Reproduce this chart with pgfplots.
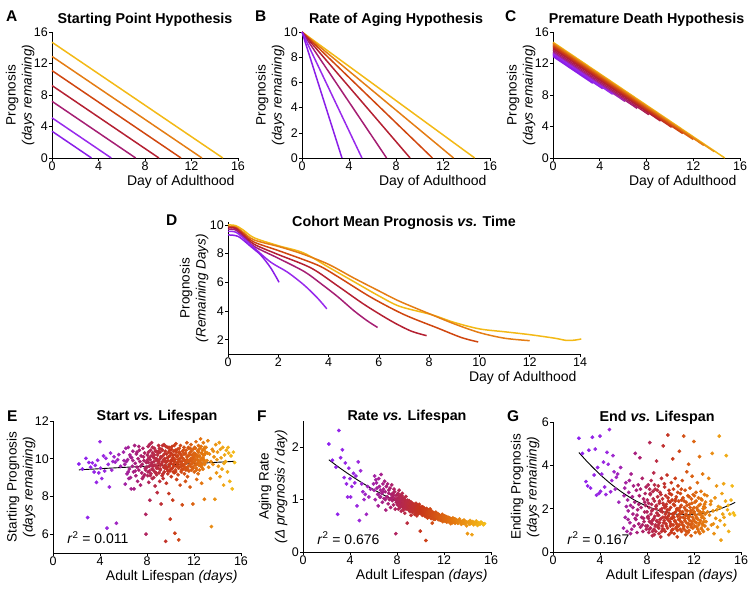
\documentclass[border=0pt]{standalone}
\usepackage{fontspec}
\setmainfont{Liberation Sans}
\usepackage{pgfplots}
\usepackage{pgfplotstable}
\pgfplotsset{compat=1.18}

\definecolor{c1}{RGB}{138,30,232}
\definecolor{c2}{RGB}{152,42,236}
\definecolor{c3}{RGB}{165,30,115}
\definecolor{c4}{RGB}{180,32,50}
\definecolor{c5}{RGB}{208,70,15}
\definecolor{c6}{RGB}{228,125,20}
\definecolor{c7}{RGB}{243,185,22}

\newcommand{\yl}[2]{#1\\[1pt]{\fontsize{13.5}{14}\selectfont\textit{#2}}}

\tikzset{
  ttl/.style={font=\bfseries\fontsize{14.3}{16}\selectfont, anchor=base},
  rsq/.style={font=\fontsize{14}{16}\selectfont, anchor=base west},
}
\pgfplotsset{
  panel/.style={
    scale only axis, axis lines=left,
    axis line style={-, line width=0.6pt},
    x axis line style={-}, y axis line style={-},
    tick align=outside, major tick length=3pt,
    tick style={black, line width=0.6pt},
    ticklabel style={font=\fontsize{12.5}{14}\selectfont, inner sep=1pt},
    /pgf/number format/assume math mode=true,
    label style={font=\fontsize{13.5}{15}\selectfont},
    ylabel style={align=center}, ylabel shift=-5pt,
    xlabel style={at={(ticklabel cs:1)}, anchor=north east, font=\fontsize{14}{15}\selectfont},
    anchor=south west, clip=false, enlargelimits=false,
  },
  hline/.style={no marks, line width=1.5pt},
  colormap={life}{rgb255=(140,30,240) rgb255=(155,40,222) rgb255=(170,30,112) rgb255=(200,55,25) rgb255=(228,120,15) rgb255=(245,190,25)},
  dots/.style={scatter, only marks, mark=*, mark size=1.7pt,
    scatter/use mapped color={draw=mapped color, fill=mapped color},
    point meta=x, point meta min=2, point meta max=15.5},
}

\pgfplotstableread{
x s r e
2.2 9.72 2.06 5.25
2.5 9.45 1.75 4.55
2.8 10.02 1.62 3.25
2.95 6.88 0.72 3.05
3.05 9.80 2.32 4.70
3.2 9.55 1.80 2.95
3.35 9.78 1.95 5.30
3.5 9.30 1.42 3.55
3.6 9.65 1.70 4.75
3.7 8.75 1.30 2.62
3.8 9.92 1.05 3.90
3.9 9.25 1.60 2.70
4.0 10.90 1.40 5.35
4.05 9.50 1.05 2.80
4.15 8.95 1.25 3.60
4.3 10.15 1.50 4.15
4.4 9.35 1.32 3.00
4.5 10.02 1.45 2.65
4.6 6.32 0.88 4.60
4.7 9.70 1.72 4.05
4.8 8.50 0.60 5.65
4.9 10.30 1.55 2.78
5.0 9.40 1.30 3.30
5.1 9.85 1.15 4.45
5.2 10.10 1.00 3.70
5.3 9.82 1.10 2.90
5.4 6.58 0.72 3.45
5.5 9.95 1.25 3.60
5.6 10.22 1.05 2.30
5.75 9.60 1.20 3.90
6.0 10.35 1.30 1.10
6.1 9.70 1.45 2.95
6.15 8.65 1.00 1.60
6.2 10.55 1.38 3.20
6.3 9.20 1.22 0.95
6.35 9.95 1.10 2.40
6.4 10.60 0.88 1.90
6.45 8.95 1.40 2.75
6.5 9.45 1.25 3.30
6.55 10.20 1.05 1.35
6.6 9.00 1.18 2.15
6.65 8.40 1.48 3.60
6.7 10.05 1.12 1.05
6.75 9.60 0.95 2.55
6.8 10.40 1.30 1.75
6.85 9.30 1.20 3.05
6.9 8.40 1.02 1.20
6.95 10.70 1.35 2.30
7.0 9.75 1.15 4.55
7.05 9.10 0.80 1.50
7.1 10.25 1.25 2.85
7.15 9.55 1.05 0.90
7.2 8.80 1.30 1.95
7.25 10.00 0.92 3.10
7.3 9.40 1.18 1.30
7.35 10.45 1.00 2.60
7.4 9.85 1.22 4.35
7.45 8.60 0.85 1.15
7.5 10.15 1.10 2.05
7.55 9.25 1.28 1.60
7.6 9.70 0.98 3.40
7.65 10.55 1.12 0.95
7.7 9.05 0.90 2.45
7.75 9.90 1.20 1.40
7.8 10.30 1.02 1.85
7.85 9.50 0.82 2.70
7.9 7.05 0.35 1.20
7.92 6.00 1.08 3.00
7.95 9.80 0.95 1.05
6.25 9.85 1.32 2.10
6.6 10.10 1.05 0.85
7.0 9.35 1.00 1.55
7.3 10.65 1.12 2.20
7.6 8.95 1.05 1.25
7.8 9.15 1.15 2.30
6.05 9.90 1.18 2.60
6.40 9.30 1.10 1.50
6.80 9.90 1.15 2.05
7.15 10.35 1.05 1.70
7.45 9.60 1.02 2.90
7.70 10.10 1.08 1.55
7.88 9.40 1.00 2.15
8.00 9.55 1.02 1.85
8.03 10.20 0.90 2.40
8.06 9.10 1.10 1.20
8.10 10.65 0.95 3.10
8.12 9.80 0.82 1.55
8.15 8.75 1.05 0.90
8.18 10.05 1.18 2.05
8.21 9.35 0.88 1.40
8.24 7.80 0.98 5.05
8.27 9.95 0.85 2.65
8.30 10.45 1.08 1.10
8.33 9.20 0.94 1.75
8.36 9.70 0.78 3.30
8.39 10.85 1.00 2.20
8.42 9.45 0.92 1.30
8.45 8.95 1.12 0.75
8.48 10.30 0.86 1.95
8.51 9.60 0.97 2.80
8.54 10.10 0.80 1.50
8.57 9.00 1.02 3.65
8.60 9.85 0.90 1.05
8.63 10.55 0.95 2.35
8.66 9.30 0.74 1.65
8.69 8.55 0.99 2.90
8.72 10.00 0.88 1.25
8.75 9.65 1.06 0.95
8.78 10.40 0.82 2.10
8.81 9.15 0.93 4.20
8.84 9.90 0.87 1.80
8.87 8.20 0.55 1.40
8.90 10.20 0.96 2.55
8.93 9.50 0.84 1.15
8.96 9.75 0.90 3.05
8.99 10.70 0.80 1.70
9.02 9.25 0.98 0.85
9.05 9.95 0.86 2.25
9.08 8.80 0.91 1.35
9.11 10.35 0.77 2.75
9.14 9.40 0.89 1.90
9.17 10.05 0.83 0.70
9.20 7.60 0.70 1.55
9.23 9.70 0.95 3.40
9.26 10.50 0.81 2.00
9.29 9.10 0.88 1.20
9.32 9.85 0.76 2.45
9.35 10.15 0.92 1.60
9.38 8.95 0.84 4.90
9.41 9.55 0.79 1.05
9.44 10.75 0.90 2.15
9.47 9.30 0.85 1.45
9.50 10.00 0.72 3.00
9.53 9.65 0.88 0.95
9.56 10.40 0.80 1.75
9.59 5.62 0.82 2.60
9.62 9.80 0.93 1.30
9.65 8.70 0.75 2.20
9.68 10.25 0.86 1.85
9.71 9.45 0.81 3.55
9.74 10.60 0.78 1.10
9.77 9.20 0.89 5.40
9.80 9.90 0.73 1.65
9.83 10.10 0.84 2.35
9.86 8.15 0.79 0.80
9.89 9.60 0.91 1.95
9.92 10.45 0.76 2.70
9.95 9.35 0.83 1.40
9.98 6.80 0.40 1.20
10.01 9.75 0.80 2.05
10.04 10.30 0.74 1.55
10.07 9.05 0.85 3.20
10.10 9.95 0.78 1.00
10.13 10.65 0.82 2.40
10.16 9.50 0.70 1.75
10.19 7.80 0.86 4.30
10.22 10.05 0.77 1.25
10.25 9.70 0.81 2.90
10.28 10.40 0.72 1.60
10.31 9.25 0.84 0.85
10.34 9.85 0.79 2.15
10.37 6.05 0.75 1.45
10.40 10.20 0.68 3.40
10.43 9.40 0.80 1.85
10.46 10.80 0.22 1.10
10.49 9.60 0.76 2.55
10.52 8.90 0.83 1.30
10.55 10.10 0.71 2.00
10.58 9.80 0.78 0.70
10.61 10.50 0.74 1.65
10.64 9.15 0.66 3.05
10.67 9.95 0.80 1.20
10.70 5.70 0.73 2.35
10.73 10.30 0.77 1.50
10.76 9.55 0.69 4.65
10.79 10.00 0.75 1.90
10.82 8.60 0.82 1.05
10.85 10.70 0.70 2.70
10.88 9.70 0.72 1.40
10.91 9.30 0.64 2.15
10.94 10.15 0.76 0.95
10.97 9.85 0.71 1.80
11.00 7.55 0.55 3.30
11.03 10.40 0.73 1.25
11.06 9.45 0.68 2.50
11.09 10.00 0.75 1.60
11.12 9.65 0.70 5.35
11.15 10.60 0.66 1.05
11.18 9.20 0.74 2.05
11.21 9.90 0.69 1.45
11.24 10.25 0.72 2.85
11.27 8.80 0.63 1.70
11.30 9.75 0.71 0.80
11.33 10.45 0.67 2.30
11.36 9.50 0.74 1.35
11.39 10.85 0.69 3.70
11.42 9.95 0.65 1.90
11.45 9.05 0.72 1.15
11.48 10.15 0.68 2.60
11.51 9.60 0.62 1.55
11.54 10.55 0.70 4.05
11.57 9.35 0.66 1.00
11.60 9.85 0.71 2.20
11.63 10.30 0.64 1.65
11.66 8.50 0.69 2.95
11.69 9.70 0.67 1.25
11.72 10.00 0.61 1.80
11.75 10.75 0.68 0.75
11.78 9.40 0.65 2.45
11.81 9.90 0.70 1.40
11.84 10.20 0.60 3.50
11.87 9.55 0.66 1.95
11.90 7.60 0.58 1.10
11.93 10.50 0.67 2.65
11.96 9.80 0.63 1.50
11.99 10.05 0.69 5.10
12.02 9.30 0.62 1.85
12.05 10.60 0.66 1.20
12.08 9.65 0.59 2.30
12.11 10.25 0.64 0.90
12.14 9.95 0.68 1.70
12.17 10.90 0.61 2.75
12.20 9.50 0.65 1.35
12.23 8.90 0.57 2.05
12.26 10.10 0.63 1.55
12.29 9.75 0.66 3.20
12.32 10.40 0.60 1.05
12.35 9.20 0.64 1.90
12.38 10.70 0.58 2.50
12.41 9.85 0.62 1.25
12.44 10.15 0.65 1.75
12.47 9.40 0.59 4.40
12.50 10.55 0.63 0.85
12.53 9.90 0.60 2.20
12.56 11.05 0.64 1.45
12.59 9.60 0.57 2.80
12.62 10.30 0.61 1.10
12.65 8.70 0.63 1.60
12.68 10.00 0.59 2.40
12.71 9.70 0.56 1.30
12.74 10.45 0.62 3.60
12.77 9.45 0.60 1.85
12.80 10.85 0.58 0.95
12.83 9.95 0.61 2.10
12.86 10.20 0.57 1.55
12.89 7.85 0.63 2.65
12.92 10.60 0.59 1.20
12.95 9.80 0.55 1.75
12.98 10.35 0.60 2.30
8.05 9.95 0.97 1.60
8.13 10.35 1.03 2.25
8.20 9.60 0.93 1.05
8.28 9.10 1.00 2.70
8.35 10.15 0.89 1.35
8.41 9.80 1.04 1.90
8.47 10.60 0.91 0.95
8.53 9.40 0.96 2.45
8.58 10.05 0.84 1.55
8.64 9.65 1.01 3.10
8.70 10.40 0.89 1.20
8.76 9.25 0.94 2.00
8.82 10.00 0.86 1.45
8.88 9.55 0.99 2.85
8.94 10.30 0.88 1.70
9.00 9.85 0.92 1.10
9.06 10.55 0.85 2.35
9.12 9.45 0.90 1.50
9.18 10.10 0.80 2.65
9.24 9.75 0.87 0.95
9.30 10.45 0.83 1.85
9.36 9.20 0.89 2.25
9.42 9.95 0.81 1.35
9.48 10.25 0.86 3.15
9.54 9.50 0.78 1.60
9.60 10.65 0.84 2.10
9.66 9.85 0.80 1.20
9.72 10.05 0.85 1.95
9.78 9.35 0.77 2.50
9.84 10.35 0.82 1.45
9.90 9.70 0.79 1.75
9.96 10.15 0.74 2.30
10.02 9.45 0.83 1.30
10.08 10.50 0.77 2.65
10.14 9.90 0.80 1.55
10.20 10.20 0.75 1.05
10.26 9.60 0.78 2.20
10.32 10.70 0.73 1.80
10.38 9.95 0.79 1.40
10.44 9.30 0.76 2.45
10.50 10.35 0.72 1.15
10.56 9.75 0.77 1.95
10.62 10.15 0.73 2.75
10.68 9.50 0.75 1.50
10.74 10.55 0.70 1.25
10.80 9.85 0.74 2.05
10.86 10.25 0.71 1.60
10.92 9.40 0.75 2.90
10.98 10.05 0.69 1.35
11.04 9.70 0.72 1.85
11.10 10.45 0.70 1.10
11.16 9.95 0.68 2.35
11.22 9.55 0.71 1.55
11.28 10.30 0.67 1.95
11.34 9.80 0.70 0.95
11.40 10.10 0.66 2.15
11.46 9.45 0.69 1.65
11.52 10.60 0.65 1.30
11.58 9.90 0.68 2.55
11.64 10.20 0.64 1.45
11.70 9.60 0.67 1.90
11.76 10.40 0.63 1.15
11.82 9.75 0.66 2.25
11.88 10.05 0.64 1.60
11.94 9.50 0.62 1.80
12.00 10.30 0.65 2.05
12.06 9.85 0.61 1.40
12.12 10.55 0.63 1.70
12.18 9.70 0.60 2.35
12.24 10.20 0.62 1.15
12.30 9.95 0.64 1.95
12.36 10.45 0.59 1.50
12.42 9.65 0.61 2.15
12.48 10.10 0.60 1.35
12.54 9.80 0.58 1.85
12.60 10.65 0.62 2.45
12.66 9.55 0.60 1.05
12.72 10.25 0.58 1.65
12.78 9.90 0.61 2.00
12.84 10.50 0.57 1.40
12.90 9.70 0.59 2.20
8.09 9.30 1.12 1.65
8.22 10.75 0.87 2.90
8.44 9.70 1.07 1.45
8.62 10.20 0.85 0.80
8.80 9.50 0.97 2.15
8.97 10.40 0.93 1.25
9.13 9.65 0.94 1.95
9.33 10.70 0.87 1.05
9.51 9.90 0.91 2.05
9.69 9.55 0.69 1.55
9.87 10.60 0.87 2.85
10.05 9.85 0.86 0.90
10.23 9.30 0.83 1.65
10.41 10.45 0.81 2.35
10.59 9.65 0.65 1.00
10.77 10.35 0.79 1.75
10.95 9.60 0.78 2.40
11.13 10.25 0.62 1.20
11.31 9.40 0.76 1.75
11.49 9.85 0.73 0.90
11.67 10.55 0.61 2.05
11.85 9.95 0.72 1.30
12.03 10.15 0.69 2.60
12.21 9.40 0.67 1.60
12.39 10.35 0.66 0.95
12.57 9.75 0.54 1.75
12.75 10.05 0.65 1.25
12.93 10.25 0.63 2.05
13.02 10.60 0.62 1.40
13.10 9.90 0.58 2.60
13.15 10.30 0.60 1.85
13.18 10.95 0.55 1.05
13.25 9.55 0.60 3.40
13.32 10.25 0.63 1.70
13.40 8.95 0.57 2.20
13.45 9.85 0.58 2.35
13.48 6.40 0.53 1.25
13.55 10.50 0.59 4.55
13.62 9.70 0.56 1.90
13.65 10.40 0.55 1.30
13.70 10.10 0.61 0.85
13.78 7.85 0.54 2.50
13.85 10.75 0.58 1.55
13.92 9.25 0.50 3.05
13.95 9.95 0.57 1.95
14.00 10.35 0.35 1.15
14.08 9.60 0.57 2.10
14.15 10.85 0.53 5.35
14.22 9.05 0.60 1.45
14.25 10.50 0.54 2.05
14.30 10.05 0.55 0.55
14.38 9.45 0.33 2.70
14.45 10.60 0.58 1.75
14.52 8.60 0.52 3.15
14.55 9.75 0.55 1.60
14.60 10.20 0.56 1.25
14.68 9.85 0.54 2.35
14.75 10.45 0.59 4.45
14.85 9.30 0.51 1.95
14.90 10.60 0.53 2.15
14.95 10.30 0.56 0.95
15.05 8.80 0.53 1.75
15.15 10.15 0.57 2.40
15.25 8.40 0.55 3.05
15.35 10.35 0.52 1.80
15.45 9.80 0.54 1.70
}\data

\begin{document}
\begin{tikzpicture}
\useasboundingbox (0,0) rectangle (754pt,-590pt);

% ---------------- A ----------------
\begin{axis}[panel, at={(52pt,-158pt)}, width=186pt, height=126pt,
  xmin=0, xmax=16, ymin=0, ymax=16, xtick={0,4,...,16}, ytick={0,4,...,16},
  xlabel={Day of Adulthood}, ylabel={\yl{Prognosis}{(days remaining)}}]
\addplot[hline, c7] coordinates {(0,14.7) (14.7,0)};
\addplot[hline, c6] coordinates {(0,12.9) (12.9,0)};
\addplot[hline, c5] coordinates {(0,11.1) (11.1,0)};
\addplot[hline, c4] coordinates {(0,9.2) (9.2,0)};
\addplot[hline, c3] coordinates {(0,7.2) (7.2,0)};
\addplot[hline, c2] coordinates {(0,5.1) (5.1,0)};
\addplot[hline, c1] coordinates {(0,3.4) (3.4,0)};
\node[ttl, yshift=9pt] at (rel axis cs:0.5,1) {Starting Point Hypothesis};
\end{axis}

% ---------------- B ----------------
\begin{axis}[panel, at={(302pt,-158pt)}, width=188pt, height=126pt,
  xmin=0, xmax=16, ymin=0, ymax=10, xtick={0,4,...,16}, ytick={0,2,...,10},
  xlabel={Day of Adulthood}, ylabel={\yl{Prognosis}{(days remaining)}}]
\addplot[hline, c7] coordinates {(0,10) (14.7,0)};
\addplot[hline, c6] coordinates {(0,10) (12.9,0)};
\addplot[hline, c5] coordinates {(0,10) (11.1,0)};
\addplot[hline, c4] coordinates {(0,10) (9.2,0)};
\addplot[hline, c3] coordinates {(0,10) (7.2,0)};
\addplot[hline, c2] coordinates {(0,10) (5.1,0)};
\addplot[hline, c1] coordinates {(0,10) (3.4,0)};
\node[ttl, yshift=9pt] at (rel axis cs:0.5,1) {Rate of Aging Hypothesis};
\end{axis}

% ---------------- C ----------------
\begin{axis}[panel, at={(553pt,-158pt)}, width=187pt, height=126pt,
  xmin=0, xmax=16, ymin=0, ymax=16, xtick={0,4,...,16}, ytick={0,4,...,16},
  xlabel={Day of Adulthood}, ylabel={\yl{Prognosis}{(days remaining)}}]
\addplot[hline, c7] coordinates {(0,14.7) (14.7,0)};
\addplot[hline, c6!50!c7] coordinates {(0,14.6) (13.8,0.8)};
\addplot[hline, c6] coordinates {(0,14.5) (12.9,1.6)};
\addplot[hline, c5!50!c6] coordinates {(0,14.35) (12.0,2.35)};
\addplot[hline, c5] coordinates {(0,14.2) (11.1,3.1)};
\addplot[hline, c4!50!c5] coordinates {(0,14.05) (10.15,3.9)};
\addplot[hline, c4] coordinates {(0,13.9) (9.2,4.7)};
\addplot[hline, c3!50!c4] coordinates {(0,13.7) (8.2,5.5)};
\addplot[hline, c3] coordinates {(0,13.5) (7.2,6.3)};
\addplot[hline, c2!50!c3] coordinates {(0,13.35) (6.15,7.2)};
\addplot[hline, c2] coordinates {(0,13.2) (5.1,8.1)};
\addplot[hline, c1!50!c2] coordinates {(0,13.05) (4.25,8.8)};
\addplot[hline, c1] coordinates {(0,12.9) (3.4,9.5)};
\node[ttl, yshift=9pt] at (rel axis cs:0.5,1) {Premature Death Hypothesis};
\end{axis}

% ---------------- D ----------------
\begin{axis}[panel, at={(228pt,-354pt)}, width=352pt, height=132pt,
  ylabel shift=-3pt,
  xmin=0, xmax=14, ymin=1, ymax=10.2, xtick={0,2,...,14}, ytick={2,4,...,10},
  xlabel={Day of Adulthood}, ylabel={\yl{Prognosis}{(Remaining Days)}}]
\addplot[hline, smooth, c7] coordinates {(0,10.0) (0.3,9.95) (0.6,9.65) (1.04,9.1) (2.0,8.55) (3.0,8.05) (4.0,7.05) (5.0,6.05) (6.0,5.05) (6.83,4.32) (8.1,3.74) (9.0,3.2) (10,2.75) (11,2.55) (12,2.35) (13,2.1) (13.45,1.95) (13.8,1.97) (14.05,2.05)};
\addplot[hline, smooth, c6] coordinates {(0,9.9) (0.3,9.85) (0.6,9.5) (1.04,8.95) (2.1,8.45) (3.0,7.95) (4.0,7.25) (5.0,6.3) (6.0,5.4) (6.83,4.67) (8.1,3.74) (9.0,3.1) (10,2.49) (11,2.1) (12,1.93)};
\addplot[hline, smooth, c5] coordinates {(0,9.85) (0.3,9.8) (0.6,9.4) (1.04,8.8) (2.1,8.15) (3.56,7.2) (4.36,6.4) (5.69,4.95) (7.0,3.75) (8.35,2.8) (9.28,2.15) (9.95,1.84)};
\addplot[hline, smooth, c4] coordinates {(0,9.8) (0.3,9.75) (0.6,9.3) (1.04,8.65) (1.97,7.95) (3.3,7.0) (4.36,5.75) (5.42,4.45) (6.49,3.3) (7.28,2.6) (7.9,2.28)};
\addplot[hline, smooth, c3] coordinates {(0,9.7) (0.3,9.65) (0.6,9.2) (1.04,8.5) (1.97,7.7) (3.03,6.75) (3.7,5.9) (4.36,5.0) (5.02,4.0) (5.55,3.3) (5.95,2.85)};
\addplot[hline, smooth, c2] coordinates {(0,9.55) (0.3,9.5) (0.6,9.1) (1.04,8.4) (1.7,7.4) (2.37,6.7) (3.03,5.8) (3.56,4.9) (3.93,4.15)};
\addplot[hline, smooth, c1] coordinates {(0,9.3) (0.2,9.28) (0.4,9.2) (0.6,8.95) (0.9,8.5) (1.3,7.9) (1.7,7.0) (2.03,6.0)};
\node[ttl, yshift=-4pt] at (rel axis cs:0.5,1) {Cohort Mean Prognosis \textit{vs.} Time};
\end{axis}

% ---------------- E ----------------
\begin{axis}[panel, at={(53pt,-553pt)}, width=188pt, height=132pt,
  xmin=0, xmax=16, ymin=5, ymax=12, xtick={0,4,...,16}, ytick={6,8,10,12},
  xlabel={Adult Lifespan \textit{(days)}}, ylabel={\yl{Starting Prognosis}{(days remaining)}}]
\addplot[dots] table[x=x, y=s] {\data};
\addplot[black, line width=0.9pt, no marks] coordinates {(2.2,9.41) (15.4,9.86)};
\node[ttl, xshift=10pt, yshift=1pt] at (rel axis cs:0.5,1) {Start \textit{vs.} Lifespan};
\node[rsq] at (rel axis cs:0.058,0.07) {\textit{r}\textsuperscript{2} = 0.011};
\end{axis}

% ---------------- F ----------------
\begin{axis}[panel, at={(303pt,-552pt)}, width=188pt, height=131pt,
  ylabel shift=0pt,
  xmin=0, xmax=16, ymin=0, ymax=2.5, xtick={0,4,...,16}, ytick={0,1,2},
  xlabel={Adult Lifespan \textit{(days)}}, ylabel={\yl{Aging Rate}{(Δ prognosis / day)}}]
\addplot[dots] table[x=x, y=r] {\data};
\addplot[black, line width=0.9pt, no marks, smooth] coordinates {(2.2,1.760) (3,1.626) (4,1.469) (5,1.325) (6,1.192) (7,1.073) (8,0.965) (9,0.870) (10,0.787) (11,0.716) (12,0.658) (13,0.612) (14,0.578) (15,0.556) (15.5,0.550)};
\node[ttl, xshift=10pt, yshift=1pt] at (rel axis cs:0.5,1) {Rate \textit{vs.} Lifespan};
\node[rsq] at (rel axis cs:0.058,0.06) {\textit{r}\textsuperscript{2} = 0.676};
\end{axis}

% ---------------- G ----------------
\begin{axis}[panel, at={(553pt,-552pt)}, width=188pt, height=130pt,
  ylabel shift=-2pt,
  xmin=0, xmax=16, ymin=0, ymax=6, xtick={0,4,...,16}, ytick={0,2,4,6},
  xlabel={Adult Lifespan \textit{(days)}}, ylabel={\yl{Ending Prognosis}{(days remaining)}}]
\addplot[dots] table[x=x, y=e] {\data};
\addplot[black, line width=0.9pt, no marks, smooth] coordinates {(2.2,4.595) (3,4.117) (4,3.580) (5,3.111) (6,2.711) (7,2.378) (8,2.113) (9,1.916) (10,1.787) (11,1.725) (12,1.732) (13,1.807) (14,1.950) (15,2.160) (15.5,2.291)};
\node[ttl, xshift=10pt, yshift=1pt] at (rel axis cs:0.5,1) {End \textit{vs.} Lifespan};
\node[rsq] at (rel axis cs:0.058,0.06) {\textit{r}\textsuperscript{2} = 0.167};
\end{axis}

% panel letters
\begin{scope}[every node/.style={anchor=base west, font=\bfseries\fontsize{15.5}{17}\selectfont, inner sep=0pt}]
\node at (6pt,-21pt) {A};
\node at (255pt,-21pt) {B};
\node at (505pt,-21pt) {C};
\node at (166pt,-225pt) {D};
\node at (7pt,-421pt) {E};
\node at (257pt,-421pt) {F};
\node at (507pt,-421pt) {G};
\end{scope}
\end{tikzpicture}
\end{document}
